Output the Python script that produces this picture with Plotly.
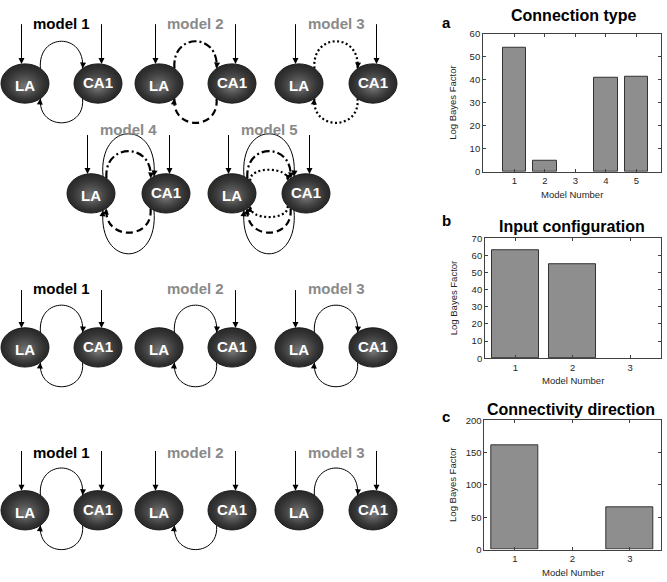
import math
import plotly.graph_objects as go

W, H = 667, 582
FONT = "Liberation Sans, Arial, Helvetica, sans-serif"

# ---------------- data ----------------
conn_models = [1, 2, 3, 4, 5]
conn_lbf = [54.0, 5.0, 0.0, 40.8, 41.1]

input_models = [1, 2, 3]
input_lbf = [63.0, 55.0, 0.0]

dir_models = [1, 2, 3]
dir_lbf = [161.0, 0.0, 65.0]

panel_letters = ["a", "b", "c"]
panel_titles = ["Connection type", "Input configuration", "Connectivity direction"]
x_title = "Model Number"
y_title = "Log Bayes Factor"
conn_yticks = [0, 10, 20, 30, 40, 50, 60]
input_yticks = [0, 10, 20, 30, 40, 50, 60, 70]
dir_yticks = [0, 50, 100, 150, 200]

# ---------------- layout helpers ----------------
def px2paper(xp, yp):
    return xp / W, 1 - yp / H

fig = go.Figure()
shapes = []
annotations = []

# ---------------- bar panels ----------------
bar_panels = [
    dict(x=conn_models, y=conn_lbf, yticks=conn_yticks, xrange=[-0.03, 5.81], bw=0.77,
         box=(483, 28.3, 661, 169), title_xy=(573, 10), letter_xy=(446, 17)),
    dict(x=input_models, y=input_lbf, yticks=input_yticks, xrange=[0.47, 3.54], bw=0.82,
         box=(485, 236.7, 661, 359), title_xy=(572, 225), letter_xy=(446, 219)),
    dict(x=dir_models, y=dir_lbf, yticks=dir_yticks, xrange=[0.47, 3.54], bw=0.82,
         box=(484.3, 422.3, 661, 554), title_xy=(571, 411), letter_xy=(446, 418)),
]

AX_COL = "#404040"
TXT_COL = "#262626"
layout_axes = {}
for i, p in enumerate(bar_panels):
    k = i + 2
    l, t, r, b = p["box"]
    edge_w = [1 if v > 0 else 0 for v in p["y"]]
    fig.add_trace(go.Bar(x=p["x"], y=p["y"], width=p["bw"], xaxis=f"x{k}", yaxis=f"y{k}",
                         marker=dict(color="#8e8e8e", line=dict(color="#333333", width=edge_w)),
                         showlegend=False, hoverinfo="skip"))
    layout_axes[f"xaxis{k}"] = dict(
        domain=[l / W, r / W], anchor=f"y{k}", range=p["xrange"],
        tickvals=p["x"], ticktext=[str(v) for v in p["x"]],
        ticks="inside", ticklen=3, tickwidth=0.8, tickcolor=AX_COL,
        showline=True, linecolor=AX_COL, linewidth=0.8, mirror="ticks",
        showgrid=False, zeroline=False, fixedrange=True,
        tickfont=dict(size=9.5, color=TXT_COL, family=FONT))
    layout_axes[f"yaxis{k}"] = dict(
        domain=[1 - b / H, 1 - t / H], anchor=f"x{k}",
        range=[p["yticks"][0], p["yticks"][-1]], tickvals=p["yticks"],
        ticks="inside", ticklen=3, tickwidth=0.8, tickcolor=AX_COL,
        showline=True, linecolor=AX_COL, linewidth=0.8, mirror="ticks",
        showgrid=False, zeroline=False, fixedrange=True,
        tickfont=dict(size=9.5, color=TXT_COL, family=FONT))
    # titles & labels
    tx, ty = px2paper(*p["title_xy"])
    annotations.append(dict(x=tx, y=ty, xref="paper", yref="paper", text=f"<b>{panel_titles[i]}</b>",
                            showarrow=False, font=dict(size=16, color="#000", family=FONT),
                            xanchor="center", yanchor="middle"))
    lx, ly = px2paper(*p["letter_xy"])
    annotations.append(dict(x=lx, y=ly, xref="paper", yref="paper", text=f"<b>{panel_letters[i]}</b>",
                            showarrow=False, font=dict(size=15, color="#000", family=FONT),
                            xanchor="center", yanchor="middle"))
    mx, my = px2paper((l + r) / 2, b + 23)
    annotations.append(dict(x=mx, y=my, xref="paper", yref="paper", text=x_title,
                            showarrow=False, font=dict(size=9.5, color=TXT_COL, family=FONT),
                            xanchor="center", yanchor="middle"))
    yx, yy = px2paper(453, (t + b) / 2)
    annotations.append(dict(x=yx, y=yy, xref="paper", yref="paper", text=y_title, textangle=-90,
                            showarrow=False, font=dict(size=9.5, color=TXT_COL, family=FONT),
                            xanchor="center", yanchor="middle"))

# ---------------- model diagrams (schematic, drawn in pixel space) ----------------
RX, RY = 24, 20

def ept(cx, cy, ang):
    a = math.radians(ang)
    return cx + RX * math.cos(a), cy - RY * math.sin(a)

def arrow_head(tip, ctrl, L=4):
    dx, dy = tip[0] - ctrl[0], tip[1] - ctrl[1]
    n = math.hypot(dx, dy) or 1
    annotations.append(dict(x=tip[0], y=tip[1], ax=tip[0] - dx / n * L, ay=tip[1] - dy / n * L,
                            xref="x", yref="y", axref="x", ayref="y", text="", showarrow=True,
                            arrowhead=2, arrowsize=1.2, arrowwidth=1, arrowcolor="#000"))

DASHES = {"solid": "solid", "dash": "7px,4px", "dashdot": "8px,3px,2px,3px", "dot": "2px,2.5px"}

def connection(la, ca, cy, kind, style, width, h, ang, b):
    if kind == "fwd":
        p0 = ept(la, cy, ang)
        p1 = ept(ca, cy, 180 - ang)
        c1 = (p0[0] - b, p0[1] - h)
        c2 = (p1[0] + b, p1[1] - h)
    else:
        p0 = ept(ca, cy, 180 + ang)
        p1 = ept(la, cy, 360 - ang)
        c1 = (p0[0] + b, p0[1] + h)
        c2 = (p1[0] - b, p1[1] + h)
    path = f"M {p0[0]:.2f},{p0[1]:.2f} C {c1[0]:.2f},{c1[1]:.2f} {c2[0]:.2f},{c2[1]:.2f} {p1[0]:.2f},{p1[1]:.2f}"
    shapes.append(dict(type="path", xref="x", yref="y", path=path,
                       line=dict(color="#000", width=width, dash=DASHES[style])))
    arrow_head(p1, c2)

def node(cx, cy, label, dy_text):
    shapes.append(dict(type="circle", xref="x", yref="y", x0=cx - RX, x1=cx + RX, y0=cy - RY, y1=cy + RY,
                       fillcolor="#2b2b2b", line=dict(color="#1a1a1a", width=1)))
    steps = 12
    for i in range(1, steps):
        t = i / steps
        s = 1 - 0.92 * t
        oy = 3.5 * t
        c = int(0x2b + (0x78 - 0x2b) * (t ** 1.3))
        shapes.append(dict(type="circle", xref="x", yref="y",
                           x0=cx - RX * s, x1=cx + RX * s, y0=cy + oy - RY * s, y1=cy + oy + RY * s,
                           fillcolor=f"rgb({c},{c},{c})", line=dict(width=0)))
    annotations.append(dict(x=cx, y=cy + dy_text, xref="x", yref="y", text=f"<b>{label}</b>",
                            showarrow=False, font=dict(size=15, color="#ffffff", family=FONT),
                            xanchor="center", yanchor="middle"))

STD_F = ("solid", 1, 37, 50, 3)
STD_B = ("solid", 1, 33, 50, 3)

# label, colour, LA x, CA1 x, row y, input top y, label y, inputs (LA, CA1), connections
diagram_models = [
    ("model 1", "#000000", 25, 98, 79, 17, 18, (1, 1), [("fwd",) + STD_F, ("bwd",) + STD_B]),
    ("model 2", "#8a8a8a", 159, 232, 79, 17, 18, (1, 1),
     [("fwd", "dashdot", 2.2, 37, 50, 3), ("bwd", "dash", 2.2, 33, 50, 3)]),
    ("model 3", "#8a8a8a", 299, 373, 79, 17, 18, (1, 1),
     [("fwd", "dot", 2.2, 37, 50, 3), ("bwd", "dot", 2.2, 33, 50, 3)]),
    ("model 4", "#8a8a8a", 91, 166, 191, 130, 126, (1, 1),
     [("fwd", "solid", 1, 58, 60, 5), ("bwd", "solid", 1, 59, 60, 5),
      ("fwd", "dashdot", 2.2, 37, 50, 3), ("bwd", "dash", 2.2, 33, 50, 3)]),
    ("model 5", "#8a8a8a", 232, 306, 191, 130, 126, (1, 1),
     [("fwd", "solid", 1, 58, 60, 5), ("bwd", "solid", 1, 59, 60, 5),
      ("fwd", "dashdot", 2.2, 37, 50, 3), ("bwd", "dash", 2.2, 33, 50, 3),
      ("fwd", "dot", 2.2, 15, 40, 2), ("bwd", "dot", 2.2, 15, 40, 2)]),
    ("model 1", "#000000", 25, 98, 348, 288, 288, (1, 1), [("fwd",) + STD_F, ("bwd",) + STD_B]),
    ("model 2", "#8a8a8a", 159, 232, 348, 288, 288, (0, 1), [("fwd",) + STD_F, ("bwd",) + STD_B]),
    ("model 3", "#8a8a8a", 299, 373, 348, 288, 288, (1, 0), [("fwd",) + STD_F, ("bwd",) + STD_B]),
    ("model 1", "#000000", 25, 98, 514, 452, 455, (1, 1), [("fwd",) + STD_F, ("bwd",) + STD_B]),
    ("model 2", "#8a8a8a", 159, 232, 514, 452, 455, (1, 1), [("bwd",) + STD_B]),
    ("model 3", "#8a8a8a", 299, 373, 514, 452, 455, (1, 1), [("fwd",) + STD_F]),
]

for label, col, la, ca, cy, top, ly, inputs, conns in diagram_models:
    for c in conns:
        connection(la, ca, cy, *c)
    node(la, cy, "LA", 2)
    node(ca, cy, "CA1", -1)
    tip_dy = RY * math.sqrt(1 - (3.5 / RX) ** 2)
    for on, xin in zip(inputs, (la - 3.5, ca + 3.5)):
        if on:
            annotations.append(dict(x=xin, y=cy - tip_dy, ax=xin, ay=top, xref="x", yref="y",
                                    axref="x", ayref="y", text="", showarrow=True,
                                    arrowhead=2, arrowsize=1.2, arrowwidth=1, arrowcolor="#000"))
    annotations.append(dict(x=(la + ca) / 2, y=ly, xref="x", yref="y", text=f"<b>{label}</b>",
                            showarrow=False, font=dict(size=15, color=col, family=FONT),
                            xanchor="center", yanchor="middle"))

fig.add_trace(go.Scatter(x=[0], y=[0], mode="markers", marker=dict(opacity=0),
                         hoverinfo="skip", showlegend=False))

fig.update_layout(
    width=W, height=H, margin=dict(l=0, r=0, t=0, b=0),
    paper_bgcolor="white", plot_bgcolor="rgba(0,0,0,0)", showlegend=False,
    xaxis=dict(domain=[0, 420 / W], range=[0, 420], visible=False, fixedrange=True),
    yaxis=dict(domain=[0, 1], range=[H, 0], visible=False, fixedrange=True),
    shapes=shapes, annotations=annotations, bargap=0,
    **layout_axes,
)

fig.write_html(
    "out.html",
    config={"displayModeBar": False},
    post_script="document.body.style.margin='0px';document.body.style.overflow='hidden';",
)
